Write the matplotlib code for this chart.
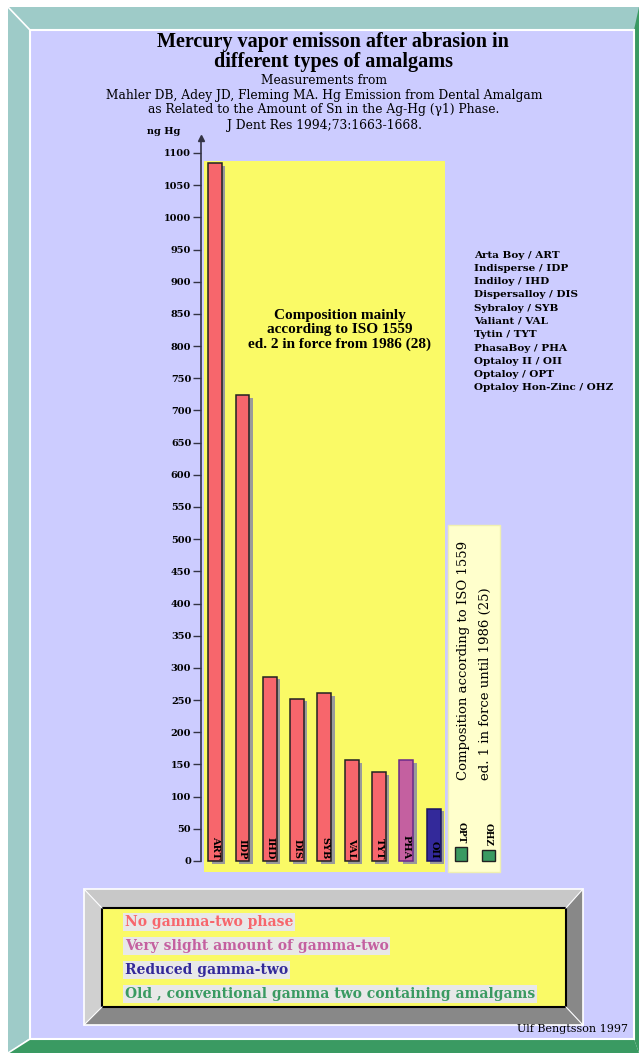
import matplotlib.pyplot as plt
from matplotlib.patches import Rectangle, Polygon
import numpy as np

W, H = 639, 1053

# amalgams measured (ISO 1559 ed. 2)
codes = ["ART", "IDP", "IHD", "DIS", "SYB", "VAL", "TYT", "PHA", "OII"]
emission = [1084, 724, 286, 252, 261, 157, 138, 157, 81]
groups = ["none", "none", "none", "none", "none", "none", "none", "slight", "reduced"]

# old conventional amalgams (ISO 1559 ed. 1)
old_codes = ["OPT", "OHZ"]
old_emission = [22, 17]

names = ["Arta Boy / ART", "Indisperse / IDP", "Indiloy / IHD", "Dispersalloy / DIS",
         "Sybraloy / SYB", "Valiant / VAL", "Tytin / TYT", "PhasaBoy / PHA",
         "Optaloy II / OII", "Optaloy / OPT", "Optaloy Hon-Zinc / OHZ"]

y_ticks = list(range(0, 1101, 50))

title_lines = ["Mercury vapor emisson after abrasion in", "different types of amalgams"]
source_lines = ["Measurements from",
                "Mahler DB, Adey JD, Fleming MA. Hg Emission from Dental Amalgam",
                "as Related to the Amount of Sn in the Ag-Hg (\u03b31) Phase.",
                "J Dent Res 1994;73:1663-1668."]

legend_labels = ["No gamma-two phase", "Very slight amount of gamma-two",
                 "Reduced gamma-two", "Old , conventional gamma two containing amalgams"]
legend_groups = ["none", "slight", "reduced", "old"]

colors = {"none": "#f7666c", "slight": "#c460a0", "reduced": "#33299a", "old": "#3a9a62"}
edges = {"none": "#222222", "slight": "#6a2a8a", "reduced": "#1a1560", "old": "#222222"}

LAV = "#ccccff"
TEAL = "#9ecbc8"
YEL = "#fafa66"
SERIF = "DejaVu Serif"
TIMES = "Liberation Serif"

fig = plt.figure(figsize=(W / 100, H / 100), dpi=100)

# ---- background / frame, drawn in pixel coordinates
bg = fig.add_axes([0, 0, 1, 1])
bg.set_xlim(0, W)
bg.set_ylim(H, 0)
bg.axis("off")

bg.add_patch(Polygon([(8, 7), (W, 7), (W, 30), (30, 30)], color=TEAL, lw=0))
bg.add_patch(Polygon([(8, 7), (30, 30), (30, 1038), (8, H)], color=TEAL, lw=0))
bg.add_patch(Polygon([(8, H), (30, 1039), (634, 1039), (W, H)], color=colors["old"], lw=0))
bg.add_patch(Polygon([(W, 7), (634, 30), (634, 1039), (W, H)], color=colors["old"], lw=0))
bg.add_patch(Rectangle((30, 30), 604, 1009, facecolor=LAV, edgecolor="white", lw=1.5))
bg.plot([8, 30], [7, 30], color="white", lw=1.2)
bg.plot([8, 30], [H, 1039], color="white", lw=1.2)

# yellow plot area and old-amalgam box
bg.add_patch(Rectangle((204, 161), 241, 711, color=YEL, lw=0))
bg.add_patch(Rectangle((448, 525), 52, 347, facecolor="#ffffcc", edgecolor="#f0f0b0", lw=1))

# titles
for i, line in enumerate(title_lines):
    bg.text(333, 42 + i * 20, line, ha="center", va="center", fontsize=14.5,
            fontweight="bold", family=TIMES)
for i, line in enumerate(source_lines):
    bg.text(324, 80 + i * 15, line, ha="center", va="center", fontsize=8.8, family=SERIF)

bg.text(340, 330, "Composition mainly\naccording to ISO 1559\ned. 2 in force from 1986 (28)",
        ha="center", va="center", fontsize=11, fontweight="bold", family=TIMES, linespacing=1.15)

bg.text(463, 780, "Composition according to ISO 1559", rotation=90, rotation_mode="anchor",
        ha="left", va="center", fontsize=9.5, family=SERIF)
bg.text(485, 780, "ed. 1 in force until 1986 (25)", rotation=90, rotation_mode="anchor",
        ha="left", va="center", fontsize=9.5, family=SERIF)

for i, name in enumerate(names):
    bg.text(474, 255 + i * 13.3, name, ha="left", va="center", fontsize=7.5,
            fontweight="bold", family=SERIF)

bg.text(164, 132, "ng Hg", ha="center", va="center", fontsize=7, fontweight="bold", family=SERIF)

# bevelled legend box
ox0, oy0, ox1, oy1 = 84, 889, 583, 1025
ix0, iy0, ix1, iy1 = 102, 908, 566, 1007
bg.add_patch(Polygon([(ox0, oy0), (ox1, oy0), (ix1, iy0), (ix0, iy0)], color="#c8c8c8", lw=0))
bg.add_patch(Polygon([(ox0, oy0), (ix0, iy0), (ix0, iy1), (ox0, oy1)], color="#d0d0d0", lw=0))
bg.add_patch(Polygon([(ox1, oy0), (ox1, oy1), (ix1, iy1), (ix1, iy0)], color="#888888", lw=0))
bg.add_patch(Polygon([(ox0, oy1), (ix0, iy1), (ix1, iy1), (ox1, oy1)], color="#888888", lw=0))
bg.add_patch(Rectangle((ox0, oy0), ox1 - ox0, oy1 - oy0, fill=False, edgecolor="white", lw=1.2))
for (a, b), (c, d) in [((ox0, oy0), (ix0, iy0)), ((ox1, oy0), (ix1, iy0)),
                       ((ox0, oy1), (ix0, iy1)), ((ox1, oy1), (ix1, iy1))]:
    bg.plot([a, c], [b, d], color="white", lw=0.8)
bg.add_patch(Rectangle((ix0, iy0), ix1 - ix0, iy1 - iy0, facecolor=YEL, edgecolor="black", lw=1.5))

for i, (lab, g) in enumerate(zip(legend_labels, legend_groups)):
    bg.text(125, 922 + i * 24, lab, ha="left", va="center", fontsize=10, fontweight="bold",
            family=SERIF, color=colors[g],
            bbox=dict(boxstyle="square,pad=0.12", facecolor="#e8e8e8", edgecolor="none"))

bg.text(628, 1029, "Ulf Bengtsson 1997", ha="right", va="center", fontsize=8, family=SERIF)

# ---- chart axes
px_per_unit = (861 - 153) / 1100.0
ax = fig.add_axes([201 / W, 1 - 872 / H, (500 - 201) / W, (872 - 130) / H])
ax.patch.set_alpha(0)
ax.set_ylim(-(872 - 861) / px_per_unit, (861 - 130) / px_per_unit)
ax.set_xlim(-0.52, 10.43)

x = np.arange(len(codes))
x_old = np.arange(len(codes), len(codes) + len(old_codes))
bw = 0.51

ax.bar(x + 0.12, emission, bw, bottom=-4, color="#9a9a9a", zorder=1)
ax.bar(x, emission, bw, color=[colors[g] for g in groups],
       edgecolor=[edges[g] for g in groups], lw=1.1, zorder=2)
for xi, c in zip(x, codes):
    ax.text(xi, 3, c, rotation=-90, ha="center", va="bottom", fontsize=7,
            fontweight="bold", family=SERIF, zorder=3)

ax.bar(x_old, old_emission, 0.47, color=colors["old"], edgecolor="#222222", lw=1, zorder=2)
for xi, c, v in zip(x_old, old_codes, old_emission):
    ax.text(xi, v + 6, c, rotation=-90, ha="center", va="bottom", fontsize=6.5,
            fontweight="bold", family=SERIF, zorder=3)

for s in ["top", "right", "bottom"]:
    ax.spines[s].set_visible(False)
ax.spines["left"].set_bounds(0, (861 - 138) / px_per_unit)
ax.spines["left"].set_color("#333344")
ax.spines["left"].set_linewidth(1.2)
ax.plot([-0.52], [(861 - 138) / px_per_unit], marker="^", color="#333344", ms=4,
        clip_on=False)
ax.set_xticks([])
ax.set_yticks(y_ticks)
ax.tick_params(axis="y", length=6, width=1, color="#333344", pad=1)
for t in ax.get_yticklabels():
    t.set_fontsize(7)
    t.set_fontweight("bold")
    t.set_family(SERIF)

fig.savefig("out.png", dpi=100)
